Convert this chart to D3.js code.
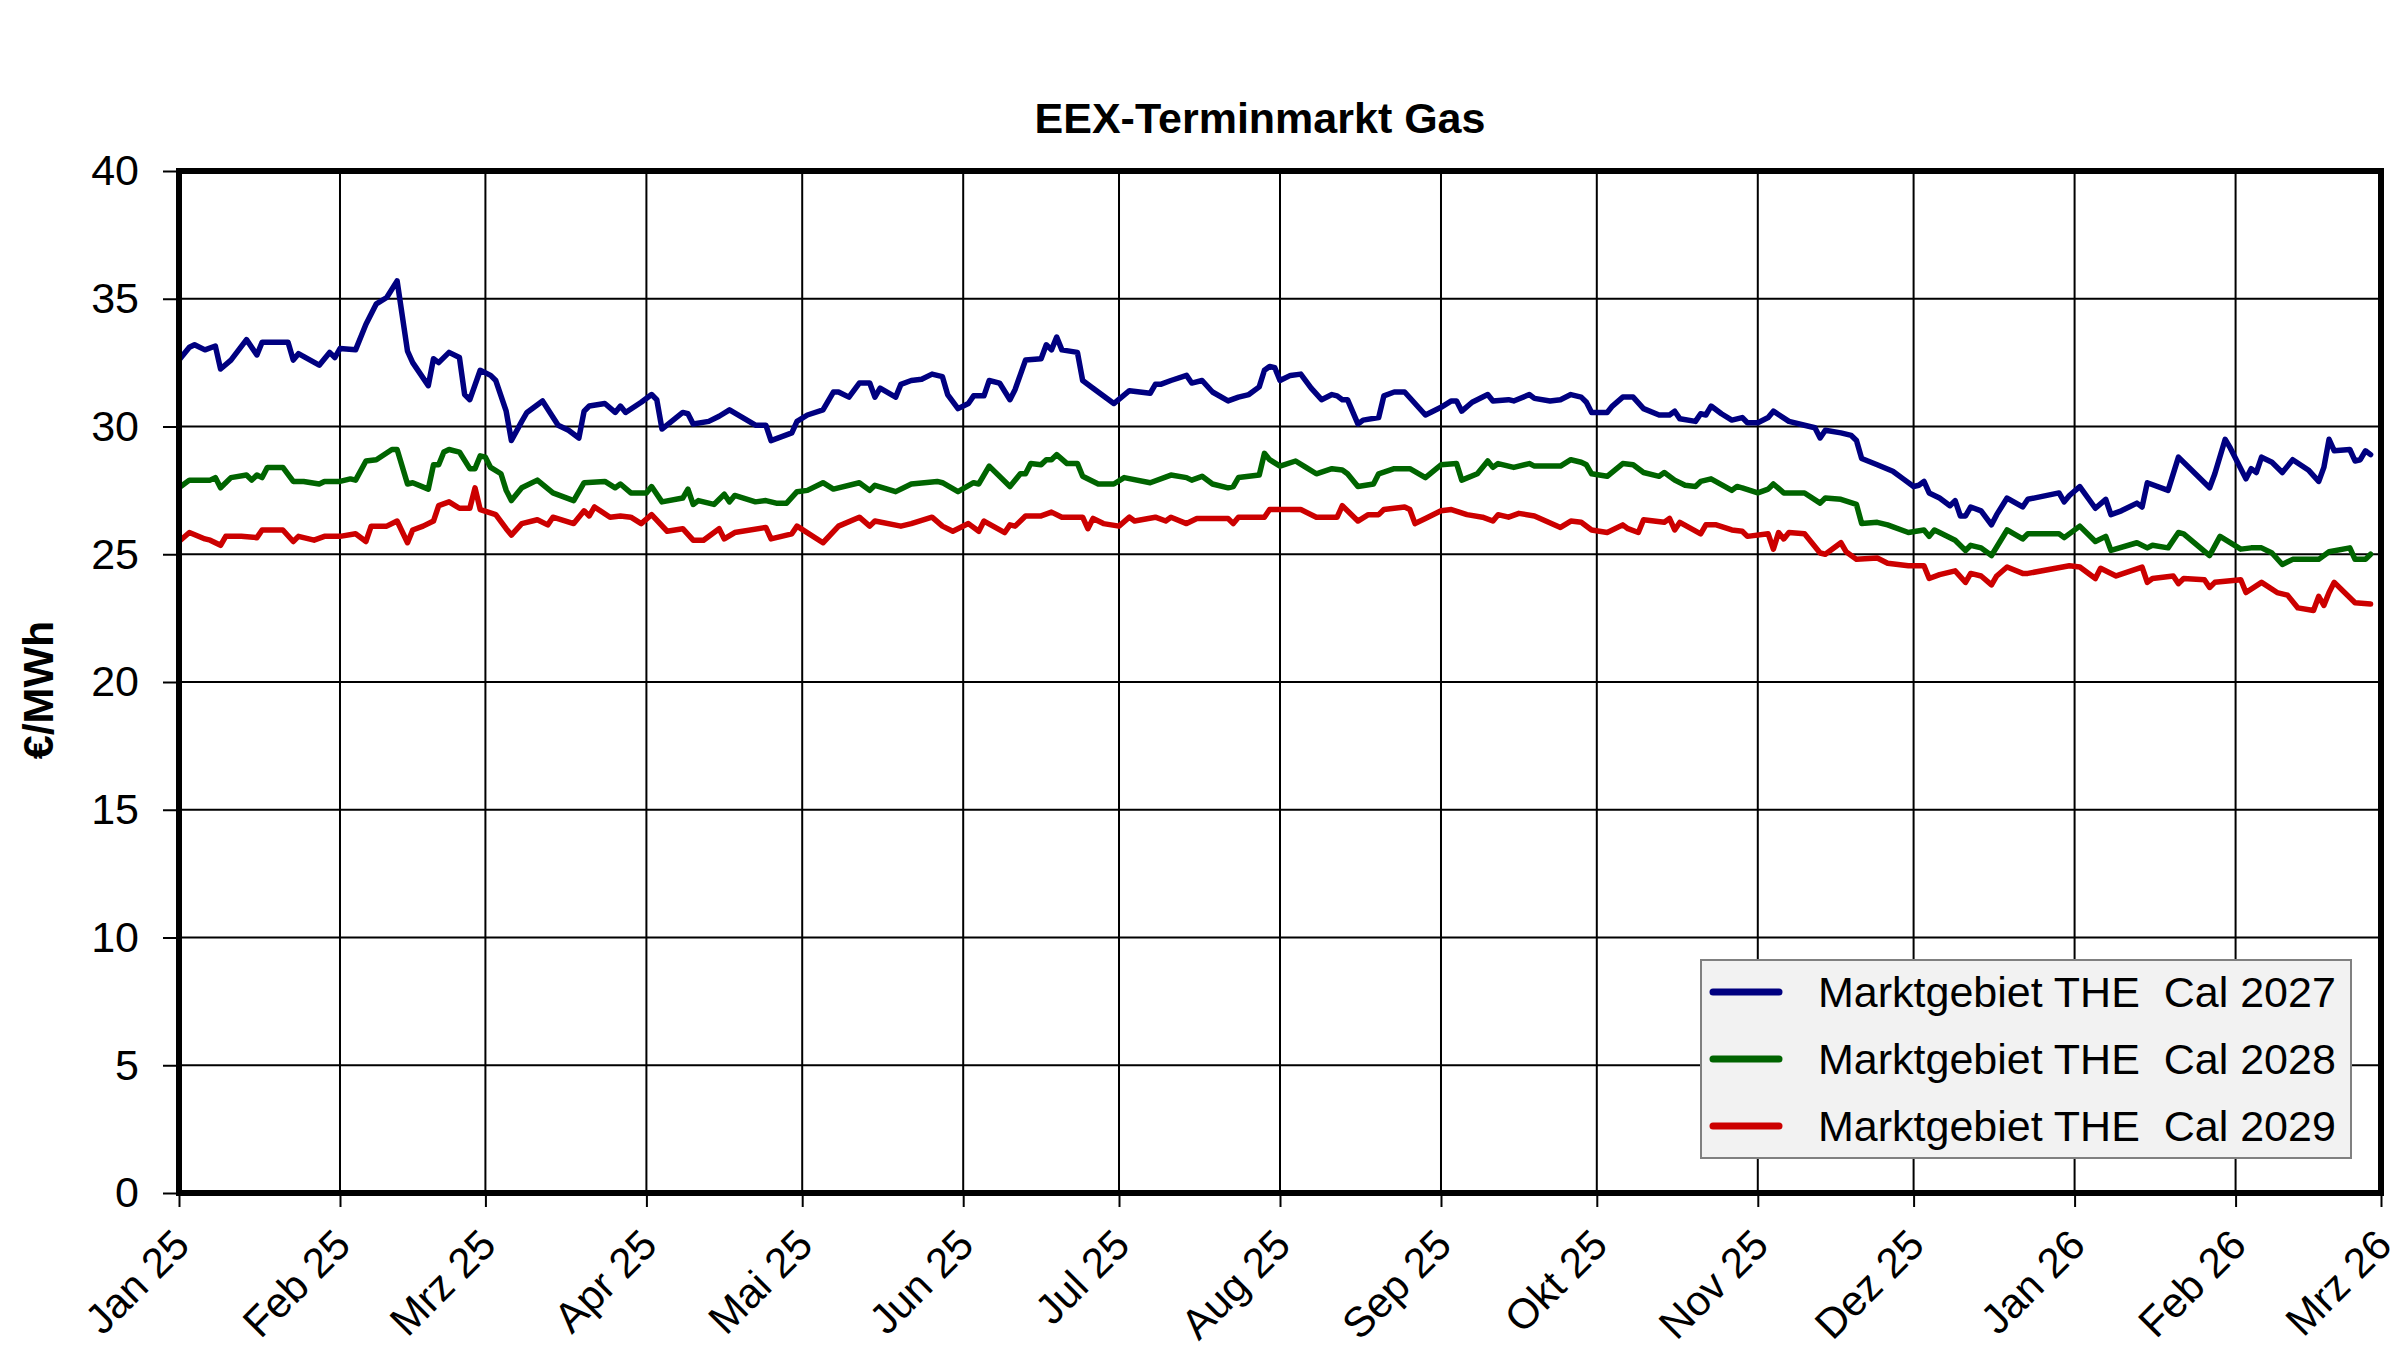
<!DOCTYPE html>
<html lang="de">
<head>
  <meta charset="UTF-8">
  <title>EEX-Terminmarkt Gas</title>
  <script src="https://d3js.org/d3.v7.min.js"></script>
  <style>
    html, body { margin: 0; padding: 0; background: #fff; }
    svg { display: block; font-family: "Liberation Sans", Arial, sans-serif; }
  </style>
</head>
<body>
<script>
  // tick labels
  const monthNames = ['Jan', 'Feb', 'Mrz', 'Apr', 'Mai', 'Jun', 'Jul', 'Aug', 'Sep', 'Okt', 'Nov', 'Dez'];
  const yTicks = [0, 5, 10, 15, 20, 25, 30, 35, 40];

  // series
  const seriesNames = ['Marktgebiet THE  Cal 2027', 'Marktgebiet THE  Cal 2028', 'Marktgebiet THE  Cal 2029'];
  const seriesColors = ['#000080', '#006400', '#cc0000'];

  const cal2027 = [
    ['25-01-01', 32.6], ['25-01-03', 33.1], ['25-01-04', 33.2], ['25-01-06', 33.0], ['25-01-08', 33.15], ['25-01-09', 32.25],
    ['25-01-11', 32.6], ['25-01-14', 33.4], ['25-01-16', 32.8], ['25-01-17', 33.3], ['25-01-22', 33.3], ['25-01-23', 32.6],
    ['25-01-24', 32.85], ['25-01-28', 32.4], ['25-01-30', 32.9], ['25-01-31', 32.7],
    ['25-02-01', 33.05], ['25-02-04', 33.0], ['25-02-06', 34.0], ['25-02-08', 34.8], ['25-02-10', 35.05], ['25-02-12', 35.7],
    ['25-02-14', 32.95], ['25-02-15', 32.5], ['25-02-18', 31.6], ['25-02-19', 32.65], ['25-02-20', 32.5], ['25-02-22', 32.9],
    ['25-02-24', 32.7], ['25-02-25', 31.25], ['25-02-26', 31.05], ['25-02-28', 32.2],
    ['25-03-02', 32.0], ['25-03-03', 31.8], ['25-03-05', 30.6], ['25-03-06', 29.45], ['25-03-08', 30.2], ['25-03-09', 30.55],
    ['25-03-12', 31.0], ['25-03-15', 30.05], ['25-03-17', 29.85], ['25-03-19', 29.55], ['25-03-20', 30.6], ['25-03-21', 30.8],
    ['25-03-24', 30.9], ['25-03-26', 30.55], ['25-03-27', 30.8], ['25-03-28', 30.55], ['25-03-31', 30.95],
    ['25-04-02', 31.25], ['25-04-03', 31.05], ['25-04-04', 29.9], ['25-04-08', 30.55], ['25-04-09', 30.5], ['25-04-10', 30.1],
    ['25-04-13', 30.2], ['25-04-15', 30.4], ['25-04-17', 30.65], ['25-04-22', 30.05], ['25-04-24', 30.05], ['25-04-25', 29.45],
    ['25-04-29', 29.75], ['25-04-30', 30.2],
    ['25-05-02', 30.45], ['25-05-05', 30.65], ['25-05-07', 31.35], ['25-05-08', 31.35], ['25-05-10', 31.15], ['25-05-12', 31.7],
    ['25-05-14', 31.7], ['25-05-15', 31.15], ['25-05-16', 31.5], ['25-05-19', 31.15], ['25-05-20', 31.65], ['25-05-22', 31.8],
    ['25-05-24', 31.85], ['25-05-26', 32.05], ['25-05-28', 31.95], ['25-05-29', 31.25], ['25-05-31', 30.7],
    ['25-06-02', 30.9], ['25-06-03', 31.2], ['25-06-05', 31.2], ['25-06-06', 31.8], ['25-06-08', 31.7], ['25-06-10', 31.05],
    ['25-06-11', 31.45], ['25-06-13', 32.6], ['25-06-16', 32.65], ['25-06-17', 33.2], ['25-06-18', 33.0], ['25-06-19', 33.5],
    ['25-06-20', 33.0], ['25-06-23', 32.9], ['25-06-24', 31.8], ['25-06-26', 31.5], ['25-06-30', 30.9],
    ['25-07-03', 31.4], ['25-07-07', 31.3], ['25-07-08', 31.65], ['25-07-09', 31.65], ['25-07-11', 31.8], ['25-07-14', 32.0],
    ['25-07-15', 31.7], ['25-07-17', 31.8], ['25-07-19', 31.35], ['25-07-22', 31.0], ['25-07-24', 31.15], ['25-07-26', 31.25],
    ['25-07-28', 31.55], ['25-07-29', 32.2], ['25-07-30', 32.35], ['25-07-31', 32.3],
    ['25-08-01', 31.8], ['25-08-03', 32.0], ['25-08-05', 32.05], ['25-08-07', 31.5], ['25-08-09', 31.05], ['25-08-11', 31.25],
    ['25-08-12', 31.2], ['25-08-13', 31.05], ['25-08-14', 31.05], ['25-08-16', 30.1], ['25-08-17', 30.25], ['25-08-20', 30.35],
    ['25-08-21', 31.2], ['25-08-23', 31.35], ['25-08-25', 31.35], ['25-08-29', 30.45],
    ['25-09-01', 30.75], ['25-09-03', 31.0], ['25-09-04', 31.0], ['25-09-05', 30.6], ['25-09-07', 30.95], ['25-09-10', 31.25],
    ['25-09-11', 31.0], ['25-09-14', 31.05], ['25-09-15', 31.0], ['25-09-18', 31.25], ['25-09-19', 31.1], ['25-09-22', 31.0],
    ['25-09-24', 31.05], ['25-09-26', 31.25], ['25-09-28', 31.15], ['25-09-29', 30.95], ['25-09-30', 30.55],
    ['25-10-03', 30.55], ['25-10-04', 30.8], ['25-10-06', 31.15], ['25-10-08', 31.15], ['25-10-10', 30.7], ['25-10-13', 30.45],
    ['25-10-15', 30.45], ['25-10-16', 30.6], ['25-10-17', 30.3], ['25-10-20', 30.2], ['25-10-21', 30.5], ['25-10-22', 30.45],
    ['25-10-23', 30.8], ['25-10-25', 30.5], ['25-10-27', 30.25], ['25-10-29', 30.35], ['25-10-30', 30.15],
    ['25-11-01', 30.15], ['25-11-03', 30.35], ['25-11-04', 30.6], ['25-11-07', 30.2], ['25-11-10', 30.05], ['25-11-12', 29.95],
    ['25-11-13', 29.55], ['25-11-14', 29.85], ['25-11-17', 29.75], ['25-11-19', 29.65], ['25-11-20', 29.45], ['25-11-21', 28.75],
    ['25-11-24', 28.5], ['25-11-27', 28.25], ['25-11-29', 27.95],
    ['25-12-01', 27.65], ['25-12-02', 27.7], ['25-12-03', 27.85], ['25-12-04', 27.4], ['25-12-06', 27.2], ['25-12-08', 26.9],
    ['25-12-09', 27.1], ['25-12-10', 26.5], ['25-12-11', 26.5], ['25-12-12', 26.85], ['25-12-14', 26.7], ['25-12-16', 26.15],
    ['25-12-17', 26.55], ['25-12-19', 27.2], ['25-12-22', 26.85], ['25-12-23', 27.15], ['25-12-29', 27.4], ['25-12-30', 27.05],
    ['25-12-31', 27.3],
    ['26-01-02', 27.65], ['26-01-05', 26.8], ['26-01-07', 27.15], ['26-01-08', 26.55], ['26-01-10', 26.7], ['26-01-13', 27.0],
    ['26-01-14', 26.85], ['26-01-15', 27.8], ['26-01-19', 27.5], ['26-01-21', 28.8], ['26-01-27', 27.6], ['26-01-28', 28.15],
    ['26-01-30', 29.5], ['26-01-31', 29.15],
    ['26-02-03', 27.95], ['26-02-04', 28.35], ['26-02-05', 28.2], ['26-02-06', 28.8], ['26-02-08', 28.6], ['26-02-10', 28.2],
    ['26-02-12', 28.7], ['26-02-15', 28.3], ['26-02-17', 27.85], ['26-02-18', 28.4], ['26-02-19', 29.5], ['26-02-20', 29.05],
    ['26-02-23', 29.1], ['26-02-24', 28.65], ['26-02-25', 28.7], ['26-02-26', 29.05], ['26-02-27', 28.9]
  ];

  const cal2028 = [
    ['25-01-01', 27.6], ['25-01-03', 27.9], ['25-01-07', 27.9], ['25-01-08', 28.0], ['25-01-09', 27.6], ['25-01-11', 28.0],
    ['25-01-14', 28.1], ['25-01-15', 27.9], ['25-01-16', 28.1], ['25-01-17', 28.0], ['25-01-18', 28.4], ['25-01-21', 28.4],
    ['25-01-23', 27.85], ['25-01-25', 27.85], ['25-01-28', 27.75], ['25-01-29', 27.85],
    ['25-02-01', 27.85], ['25-02-03', 27.95], ['25-02-04', 27.9], ['25-02-06', 28.65], ['25-02-08', 28.7], ['25-02-11', 29.1],
    ['25-02-12', 29.1], ['25-02-14', 27.75], ['25-02-15', 27.8], ['25-02-18', 27.55], ['25-02-19', 28.5], ['25-02-20', 28.5],
    ['25-02-21', 29.0], ['25-02-22', 29.1], ['25-02-24', 29.0], ['25-02-26', 28.35], ['25-02-27', 28.35], ['25-02-28', 28.85],
    ['25-03-01', 28.8], ['25-03-02', 28.4], ['25-03-04', 28.15], ['25-03-05', 27.5], ['25-03-06', 27.1], ['25-03-08', 27.6],
    ['25-03-11', 27.9], ['25-03-14', 27.4], ['25-03-18', 27.1], ['25-03-20', 27.8], ['25-03-24', 27.85], ['25-03-26', 27.6],
    ['25-03-27', 27.75], ['25-03-29', 27.4],
    ['25-04-01', 27.4], ['25-04-02', 27.65], ['25-04-04', 27.05], ['25-04-08', 27.2], ['25-04-09', 27.55], ['25-04-10', 26.95],
    ['25-04-11', 27.1], ['25-04-14', 26.95], ['25-04-16', 27.35], ['25-04-17', 27.05], ['25-04-18', 27.3], ['25-04-22', 27.05],
    ['25-04-24', 27.1], ['25-04-26', 27.0], ['25-04-28', 27.0], ['25-04-30', 27.45],
    ['25-05-02', 27.5], ['25-05-05', 27.8], ['25-05-07', 27.55], ['25-05-12', 27.8], ['25-05-14', 27.5], ['25-05-15', 27.7],
    ['25-05-19', 27.45], ['25-05-22', 27.75], ['25-05-27', 27.85], ['25-05-28', 27.8], ['25-05-31', 27.45],
    ['25-06-03', 27.8], ['25-06-04', 27.75], ['25-06-06', 28.45], ['25-06-10', 27.65], ['25-06-12', 28.15], ['25-06-13', 28.15],
    ['25-06-14', 28.55], ['25-06-16', 28.5], ['25-06-17', 28.7], ['25-06-18', 28.7], ['25-06-19', 28.9], ['25-06-21', 28.55],
    ['25-06-23', 28.55], ['25-06-24', 28.05], ['25-06-27', 27.75], ['25-06-30', 27.75],
    ['25-07-02', 28.0], ['25-07-07', 27.8], ['25-07-11', 28.1], ['25-07-14', 28.0], ['25-07-15', 27.9], ['25-07-17', 28.05],
    ['25-07-19', 27.75], ['25-07-22', 27.6], ['25-07-23', 27.65], ['25-07-24', 28.0], ['25-07-28', 28.1], ['25-07-29', 28.95],
    ['25-07-30', 28.7],
    ['25-08-01', 28.45], ['25-08-04', 28.65], ['25-08-06', 28.4], ['25-08-08', 28.15], ['25-08-11', 28.35], ['25-08-13', 28.3],
    ['25-08-14', 28.15], ['25-08-16', 27.65], ['25-08-19', 27.75], ['25-08-20', 28.15], ['25-08-23', 28.35], ['25-08-26', 28.35],
    ['25-08-29', 28.0],
    ['25-09-01', 28.5], ['25-09-04', 28.55], ['25-09-05', 27.9], ['25-09-08', 28.15], ['25-09-10', 28.65], ['25-09-11', 28.4],
    ['25-09-12', 28.55], ['25-09-15', 28.4], ['25-09-18', 28.55], ['25-09-19', 28.45], ['25-09-24', 28.45], ['25-09-26', 28.7],
    ['25-09-28', 28.6], ['25-09-29', 28.5], ['25-09-30', 28.15],
    ['25-10-03', 28.05], ['25-10-06', 28.55], ['25-10-08', 28.5], ['25-10-10', 28.2], ['25-10-13', 28.05], ['25-10-14', 28.2],
    ['25-10-16', 27.9], ['25-10-18', 27.7], ['25-10-20', 27.65], ['25-10-21', 27.85], ['25-10-23', 27.95], ['25-10-27', 27.5],
    ['25-10-28', 27.65], ['25-10-29', 27.6],
    ['25-11-01', 27.4], ['25-11-03', 27.55], ['25-11-04', 27.75], ['25-11-06', 27.4], ['25-11-10', 27.4], ['25-11-13', 27.0],
    ['25-11-14', 27.2], ['25-11-17', 27.15], ['25-11-20', 26.95], ['25-11-21', 26.2], ['25-11-24', 26.25], ['25-11-26', 26.15],
    ['25-11-30', 25.85],
    ['25-12-03', 25.95], ['25-12-04', 25.7], ['25-12-05', 25.95], ['25-12-06', 25.85], ['25-12-09', 25.55], ['25-12-11', 25.15],
    ['25-12-12', 25.35], ['25-12-14', 25.25], ['25-12-16', 24.95], ['25-12-19', 25.95], ['25-12-22', 25.6], ['25-12-23', 25.8],
    ['25-12-29', 25.8], ['25-12-30', 25.65],
    ['26-01-02', 26.1], ['26-01-05', 25.5], ['26-01-07', 25.7], ['26-01-08', 25.15], ['26-01-13', 25.45], ['26-01-15', 25.25],
    ['26-01-16', 25.35], ['26-01-19', 25.25], ['26-01-21', 25.85], ['26-01-22', 25.8], ['26-01-27', 24.95], ['26-01-29', 25.7],
    ['26-02-02', 25.2], ['26-02-04', 25.25], ['26-02-06', 25.25], ['26-02-08', 25.05], ['26-02-10', 24.6], ['26-02-12', 24.8],
    ['26-02-17', 24.8], ['26-02-19', 25.1], ['26-02-23', 25.25], ['26-02-24', 24.8], ['26-02-26', 24.8], ['26-02-27', 25.0]
  ];

  const cal2029 = [
    ['25-01-01', 25.5], ['25-01-03', 25.85], ['25-01-06', 25.6], ['25-01-07', 25.55], ['25-01-09', 25.35], ['25-01-10', 25.7],
    ['25-01-13', 25.7], ['25-01-16', 25.65], ['25-01-17', 25.95], ['25-01-21', 25.95], ['25-01-23', 25.5], ['25-01-24', 25.7],
    ['25-01-27', 25.55], ['25-01-29', 25.7],
    ['25-02-01', 25.7], ['25-02-04', 25.8], ['25-02-06', 25.5], ['25-02-07', 26.1], ['25-02-10', 26.1], ['25-02-12', 26.3],
    ['25-02-14', 25.45], ['25-02-15', 25.95], ['25-02-17', 26.1], ['25-02-19', 26.3], ['25-02-20', 26.9], ['25-02-22', 27.05],
    ['25-02-24', 26.8], ['25-02-26', 26.8], ['25-02-27', 27.6], ['25-02-28', 26.75],
    ['25-03-03', 26.55], ['25-03-05', 26.0], ['25-03-06', 25.75], ['25-03-08', 26.2], ['25-03-11', 26.35], ['25-03-13', 26.15],
    ['25-03-14', 26.45], ['25-03-18', 26.2], ['25-03-20', 26.7], ['25-03-21', 26.5], ['25-03-22', 26.85], ['25-03-25', 26.45],
    ['25-03-27', 26.5], ['25-03-29', 26.45], ['25-03-31', 26.2],
    ['25-04-02', 26.55], ['25-04-05', 25.9], ['25-04-08', 26.0], ['25-04-10', 25.55], ['25-04-12', 25.55], ['25-04-15', 26.0],
    ['25-04-16', 25.6], ['25-04-18', 25.85], ['25-04-24', 26.05], ['25-04-25', 25.6], ['25-04-29', 25.8], ['25-04-30', 26.1],
    ['25-05-05', 25.45], ['25-05-08', 26.1], ['25-05-12', 26.45], ['25-05-14', 26.1], ['25-05-15', 26.3], ['25-05-20', 26.1],
    ['25-05-22', 26.2], ['25-05-26', 26.45], ['25-05-28', 26.1], ['25-05-30', 25.9],
    ['25-06-02', 26.2], ['25-06-04', 25.9], ['25-06-05', 26.3], ['25-06-09', 25.85], ['25-06-10', 26.15], ['25-06-11', 26.1],
    ['25-06-13', 26.5], ['25-06-16', 26.5], ['25-06-18', 26.65], ['25-06-20', 26.45], ['25-06-24', 26.45], ['25-06-25', 26.0],
    ['25-06-26', 26.4], ['25-06-28', 26.2],
    ['25-07-01', 26.1], ['25-07-03', 26.45], ['25-07-04', 26.3], ['25-07-08', 26.45], ['25-07-10', 26.3], ['25-07-11', 26.45],
    ['25-07-14', 26.2], ['25-07-16', 26.4], ['25-07-22', 26.4], ['25-07-23', 26.2], ['25-07-24', 26.45], ['25-07-29', 26.45],
    ['25-07-30', 26.75],
    ['25-08-05', 26.75], ['25-08-08', 26.45], ['25-08-12', 26.45], ['25-08-13', 26.9], ['25-08-16', 26.3], ['25-08-18', 26.55],
    ['25-08-20', 26.55], ['25-08-21', 26.75], ['25-08-25', 26.85], ['25-08-26', 26.75], ['25-08-27', 26.2], ['25-08-29', 26.4],
    ['25-09-01', 26.7], ['25-09-03', 26.75], ['25-09-06', 26.55], ['25-09-09', 26.45], ['25-09-11', 26.3], ['25-09-12', 26.55],
    ['25-09-14', 26.45], ['25-09-16', 26.6], ['25-09-19', 26.5], ['25-09-24', 26.05], ['25-09-26', 26.3], ['25-09-28', 26.25],
    ['25-09-30', 25.95],
    ['25-10-03', 25.85], ['25-10-06', 26.15], ['25-10-07', 26.0], ['25-10-09', 25.85], ['25-10-10', 26.35], ['25-10-14', 26.25],
    ['25-10-15', 26.4], ['25-10-16', 25.95], ['25-10-17', 26.25], ['25-10-21', 25.8], ['25-10-22', 26.15], ['25-10-24', 26.15],
    ['25-10-27', 25.95], ['25-10-29', 25.9], ['25-10-30', 25.7],
    ['25-11-03', 25.8], ['25-11-04', 25.2], ['25-11-05', 25.85], ['25-11-06', 25.6], ['25-11-07', 25.85], ['25-11-10', 25.8],
    ['25-11-13', 25.05], ['25-11-14', 25.0], ['25-11-17', 25.45], ['25-11-18', 25.1], ['25-11-20', 24.8], ['25-11-24', 24.85],
    ['25-11-26', 24.65], ['25-11-30', 24.55],
    ['25-12-03', 24.55], ['25-12-04', 24.05], ['25-12-06', 24.2], ['25-12-09', 24.35], ['25-12-11', 23.9], ['25-12-12', 24.25],
    ['25-12-14', 24.15], ['25-12-16', 23.8], ['25-12-17', 24.15], ['25-12-19', 24.5], ['25-12-22', 24.25], ['25-12-23', 24.25],
    ['25-12-31', 24.55],
    ['26-01-02', 24.5], ['26-01-05', 24.05], ['26-01-06', 24.45], ['26-01-09', 24.15], ['26-01-14', 24.5], ['26-01-15', 23.9],
    ['26-01-16', 24.05], ['26-01-20', 24.15], ['26-01-21', 23.85], ['26-01-22', 24.05], ['26-01-26', 24.0], ['26-01-27', 23.7],
    ['26-01-28', 23.9],
    ['26-02-02', 24.0], ['26-02-03', 23.5], ['26-02-06', 23.9], ['26-02-09', 23.5], ['26-02-11', 23.4], ['26-02-13', 22.9],
    ['26-02-16', 22.8], ['26-02-17', 23.35], ['26-02-18', 23.0], ['26-02-19', 23.5], ['26-02-20', 23.9], ['26-02-24', 23.1],
    ['26-02-27', 23.05]
  ];

  const w = 2400;
  const h = 1354;
  // plot frame
  const plotLeft = 179, plotRight = 2381, plotTop = 171, plotBottom = 1193;

  const parseDate = d3.timeParse('%y-%m-%d');
  const start = new Date(2025, 0, 1);
  const end = new Date(2026, 2, 1);
  const monthTicks = d3.timeMonth.range(start, d3.timeDay.offset(end, 1));

  const xScale = d3.scaleTime().domain([start, end]).range([plotLeft, plotRight]);
  const yScale = d3.scaleLinear().domain([0, 40]).range([plotBottom, plotTop]);

  const svg = d3.select('body')
    .append('svg')
    .attr('width', w)
    .attr('height', h);

  svg.append('rect').attr('width', w).attr('height', h).attr('fill', '#fff');

  // gridlines
  const grid = svg.append('g').attr('stroke', '#000').attr('stroke-width', 2);
  grid.selectAll('line.v')
    .data(monthTicks.slice(1, -1))
    .enter()
    .append('line')
    .attr('class', 'v')
    .attr('x1', d => xScale(d)).attr('x2', d => xScale(d))
    .attr('y1', plotTop).attr('y2', plotBottom);
  grid.selectAll('line.h')
    .data(yTicks.slice(1, -1))
    .enter()
    .append('line')
    .attr('class', 'h')
    .attr('x1', plotLeft).attr('x2', plotRight)
    .attr('y1', d => yScale(d)).attr('y2', d => yScale(d));

  // lines
  const series = [cal2027, cal2028, cal2029];
  const line = d3.line()
    .x(d => xScale(parseDate(d[0])))
    .y(d => yScale(d[1]));

  svg.append('g')
    .selectAll('path')
    .data(series)
    .enter()
    .append('path')
    .attr('d', d => line(d))
    .attr('fill', 'none')
    .attr('stroke', (d, i) => seriesColors[i])
    .attr('stroke-width', 5.5)
    .attr('stroke-linejoin', 'round')
    .attr('stroke-linecap', 'round');

  // frame
  svg.append('rect')
    .attr('x', plotLeft).attr('y', plotTop)
    .attr('width', plotRight - plotLeft).attr('height', plotBottom - plotTop)
    .attr('fill', 'none')
    .attr('stroke', '#000')
    .attr('stroke-width', 6);

  // axes
  const yAxis = d3.axisLeft(yScale)
    .tickValues(yTicks)
    .tickSize(16)
    .tickPadding(24)
    .tickSizeOuter(0);

  const yG = svg.append('g')
    .attr('transform', `translate(${plotLeft},0)`)
    .call(yAxis);

  const xAxis = d3.axisBottom(xScale)
    .tickValues(monthTicks)
    .tickSize(14)
    .tickSizeOuter(0)
    .tickFormat(d => monthNames[d.getMonth()] + ' ' + d3.timeFormat('%y')(d));

  const xG = svg.append('g')
    .attr('transform', `translate(0,${plotBottom})`)
    .call(xAxis);

  [xG, yG].forEach(g => {
    g.select('.domain').remove();
    g.selectAll('line').attr('stroke', '#000').attr('stroke-width', 2);
    g.selectAll('text')
      .attr('fill', '#000')
      .style('font-family', '"Liberation Sans", Arial, sans-serif')
      .style('font-size', '43px');
  });

  // rotated month labels
  xG.selectAll('text')
    .attr('y', null)
    .attr('dy', '0.35em')
    .attr('text-anchor', 'end')
    .style('font-size', '42px')
    .attr('transform', 'translate(2,44) rotate(-45)');

  // title
  svg.append('text')
    .attr('x', 1260)
    .attr('y', 133)
    .attr('text-anchor', 'middle')
    .style('font-size', '43px')
    .style('font-weight', 'bold')
    .text('EEX-Terminmarkt Gas');

  // y axis title
  svg.append('text')
    .attr('transform', 'translate(53,690) rotate(-90)')
    .attr('text-anchor', 'middle')
    .style('font-size', '43px')
    .style('font-weight', 'bold')
    .text('€/MWh');

  // legend
  const legend = svg.append('g').attr('transform', 'translate(1701,960)');
  legend.append('rect')
    .attr('width', 650)
    .attr('height', 198)
    .attr('fill', '#f2f2f2')
    .attr('stroke', '#808080')
    .attr('stroke-width', 2);

  const rows = legend.selectAll('g.row')
    .data(seriesNames)
    .enter()
    .append('g')
    .attr('class', 'row')
    .attr('transform', (d, i) => `translate(0,${32 + i * 67})`);

  rows.append('line')
    .attr('x1', 12).attr('x2', 78)
    .attr('stroke', (d, i) => seriesColors[i])
    .attr('stroke-width', 7)
    .attr('stroke-linecap', 'round');

  rows.append('text')
    .attr('x', 117)
    .attr('dy', '0.35em')
    .style('font-size', '43px')
    .style('white-space', 'pre')
    .text(d => d);
</script>
</body>
</html>
